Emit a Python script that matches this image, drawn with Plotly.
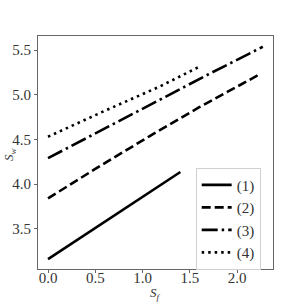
import plotly.graph_objects as go

# series data (S_f, S_w)
x1 = [0.0, 0.5, 1.0, 1.4]
y1 = [3.16, 3.51, 3.86, 4.135]
x2 = [0.0, 0.5, 1.08, 1.6, 2.225]
y2 = [3.84, 4.17, 4.54, 4.86, 5.22]
x3 = [0.0, 0.6, 1.167, 1.7, 2.272]
y3 = [4.29, 4.62, 4.94, 5.23, 5.537]
x4 = [0.0, 0.6, 1.178, 1.6]
y4 = [4.53, 4.82, 5.09, 5.313]
names = ["(1)", "(2)", "(3)", "(4)"]
xticks = [0.0, 0.5, 1.0, 1.5, 2.0]
yticks = [3.5, 4.0, 4.5, 5.0, 5.5]

dashes = ["solid", "9px,4px", "16px,4px,2.5px,4px", "2.5px,4px"]
font = "Liberation Serif, DejaVu Serif, serif"

fig = go.Figure()
for xs, ys, nm, d in zip([x1, x2, x3, x4], [y1, y2, y3, y4], names, dashes):
    fig.add_trace(go.Scatter(x=xs, y=ys, mode="lines", name=nm,
                             line=dict(color="black", width=2.6, dash=d)))

fig.update_layout(
    width=304, height=304,
    margin=dict(l=38, r=31, t=36, b=35, autoexpand=False),
    paper_bgcolor="white", plot_bgcolor="white",
    font=dict(family=font, size=15, color="#333"),
    showlegend=True,
    legend=dict(x=0.671, y=0.435, xanchor="left", yanchor="top",
                bgcolor="white", bordercolor="#d0d0d0", borderwidth=1,
                font=dict(size=15, color="#333"), tracegroupgap=0,
                itemwidth=30),
    annotations=[
        dict(text="<i>S</i><sub><i>f</i></sub>", xref="paper", yref="paper",
             x=0.498, y=-0.105, xanchor="center", yanchor="middle",
             showarrow=False, font=dict(size=13, color="#333")),
        dict(text="<i>S</i><sub><i>w</i></sub>", xref="paper", yref="paper",
             x=-0.118, y=0.49, xanchor="center", yanchor="middle",
             textangle=-90, showarrow=False, font=dict(size=13, color="#333")),
    ],
)
fig.update_xaxes(range=[-0.106, 2.38], tickvals=xticks,
                 ticktext=[f"{v:.1f}" for v in xticks],
                 showgrid=False, zeroline=False, showline=True, mirror=True,
                 linecolor="#666", linewidth=1, ticks="outside", ticklen=3,
                 tickcolor="#666", automargin=False, ticklabelstandoff=-8)
fig.update_yaxes(range=[3.05, 5.657], tickvals=yticks,
                 ticktext=[f"{v:.1f}" for v in yticks],
                 showgrid=False, zeroline=False, showline=True, mirror=True,
                 linecolor="#666", linewidth=1, ticks="outside", ticklen=3,
                 tickcolor="#666", automargin=False)

fig.write_html("out.html", config={"displayModeBar": False},
               post_script="document.body.style.margin='0';document.body.style.padding='0';")
